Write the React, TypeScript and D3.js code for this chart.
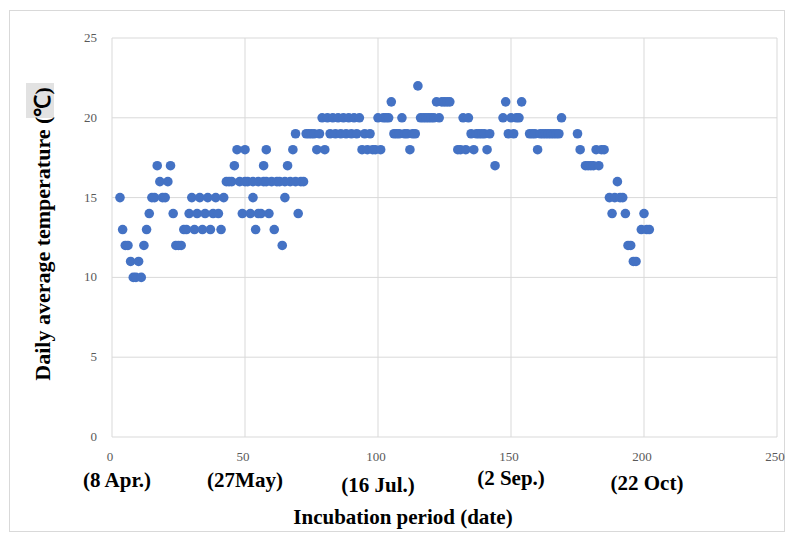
import React from "react";
import * as d3 from "d3";

// Incubation day (x) and daily average temperature (°C)
const days = [
  3, 4, 5, 6, 7, 8, 9, 10, 11, 12, 13, 14, 15, 16, 17, 18, 19, 20, 21, 22,
  23, 24, 25, 26, 27, 28, 29, 30, 31, 32, 33, 34, 35, 36, 37, 38, 39, 40, 41, 42,
  43, 44, 45, 46, 47, 48, 49, 50, 51, 52, 53, 54, 55, 56, 57, 58, 59, 60, 61, 62,
  63, 64, 65, 66, 67, 68, 69, 70, 71, 72, 73, 74, 75, 76, 77, 78, 79, 80, 81, 82,
  83, 84, 85, 86, 87, 88, 89, 90, 91, 92, 93, 94, 95, 96, 97, 98, 99, 100, 101, 102,
  103, 104, 105, 106, 107, 108, 109, 110, 111, 112, 113, 114, 115, 116, 117, 118, 119, 120, 121, 122,
  123, 124, 125, 126, 127, 130, 131, 132, 133, 134, 135, 136, 137, 138, 139, 140, 141, 142, 144, 147,
  148, 149, 150, 151, 152, 153, 154, 157, 158, 159, 160, 161, 162, 163, 164, 165, 166, 167, 168, 169,
  175, 176, 178, 179, 180, 181, 182, 183, 184, 185, 187, 188, 189, 190, 191, 192, 193, 194, 195, 196,
  197, 199, 200, 201, 202,
  50, 53, 55, 57, 58, 65, 69,
];
const temps = [
  15, 13, 12, 12, 11, 10, 10, 11, 10, 12, 13, 14, 15, 15, 17, 16, 15, 15, 16, 17,
  14, 12, 12, 12, 13, 13, 14, 15, 13, 14, 15, 13, 14, 15, 13, 14, 15, 14, 13, 15,
  16, 16, 16, 17, 18, 16, 14, 18, 16, 14, 15, 13, 16, 14, 17, 18, 14, 16, 13, 16,
  16, 12, 15, 17, 16, 18, 19, 14, 16, 16, 19, 19, 19, 19, 18, 19, 20, 18, 20, 19,
  20, 19, 20, 19, 20, 19, 20, 19, 20, 19, 20, 18, 19, 18, 19, 18, 18, 20, 18, 20,
  20, 20, 21, 19, 19, 19, 20, 19, 19, 18, 19, 19, 22, 20, 20, 20, 20, 20, 20, 21,
  20, 21, 21, 21, 21, 18, 18, 20, 18, 20, 19, 18, 19, 19, 19, 19, 18, 19, 17, 20,
  21, 19, 20, 19, 20, 20, 21, 19, 19, 19, 18, 19, 19, 19, 19, 19, 19, 19, 19, 20,
  19, 18, 17, 17, 17, 17, 18, 17, 18, 18, 15, 14, 15, 16, 15, 15, 14, 12, 12, 11,
  11, 13, 14, 13, 13,
  16, 16, 14, 16, 16, 16, 16,
];

const xTicks = [0, 50, 100, 150, 200, 250];
const yTicks = [0, 5, 10, 15, 20, 25];
const dateLabels = ["(8 Apr.)", "(27May)", "(16 Jul.)", "(2 Sep.)", "(22 Oct)"];
const dateLabelDays = [0, 50, 100, 150, 200];

const xTitle = "Incubation period (date)";
const yTitle = "Daily average temperature (\u2103)";

export default function App() {
  const W = 793;
  const H = 540;
  const x = d3.scaleLinear().domain([0, 250]).range([112, 777]);
  const y = d3.scaleLinear().domain([0, 25]).range([437, 38]);
  const serif = '"Liberation Serif", "Times New Roman", serif';
  const dateDy = [0, 0, 5, -2, 3];
  const dateDx = [5, 0, 0, 0, 3];

  return (
    <svg
      width={W}
      height={H}
      style={{ position: "absolute", left: 0, top: 0, background: "#fff" }}
      fontFamily={serif}
    >
      <rect x={0} y={0} width={W} height={H} fill="#fff" />
      <rect x={9.5} y={10.5} width={775} height={521} fill="none" stroke="#d9d9d9" strokeWidth={1} />

      {/* gridlines */}
      {yTicks.map((t) => (
        <line key={"gy" + t} x1={x(0)} x2={x(250)} y1={y(t)} y2={y(t)} stroke="#d9d9d9" strokeWidth={1} />
      ))}
      {xTicks.map((t) => (
        <line key={"gx" + t} x1={x(t)} x2={x(t)} y1={y(0)} y2={y(25)} stroke="#d9d9d9" strokeWidth={1} />
      ))}

      {/* y tick labels */}
      {yTicks.map((t) => (
        <text key={"ty" + t} x={97} y={y(t) + 4} textAnchor="end" fontSize={13} fill="#595959">
          {t}
        </text>
      ))}
      {/* x tick labels */}
      {xTicks.map((t) => (
        <text key={"tx" + t} x={x(t) - 2} y={461} textAnchor="middle" fontSize={13} fill="#595959">
          {t}
        </text>
      ))}
      {/* date labels */}
      {dateLabels.map((lab, i) => (
        <text
          key={"dl" + i}
          x={x(dateLabelDays[i]) + dateDx[i]}
          y={487 + dateDy[i]}
          textAnchor="middle"
          fontSize={21}
          fontWeight="bold"
          fill="#000"
        >
          {lab}
        </text>
      ))}

      {/* points */}
      {days.map((d, i) => (
        <circle key={"p" + i} cx={x(d)} cy={y(temps[i])} r={4.8} fill="#4472C4" />
      ))}

      {/* axis titles */}
      <text x={403} y={524} textAnchor="middle" fontSize={21} fontWeight="bold" fill="#000">
        {xTitle}
      </text>
      <rect x={26} y={83} width={28} height={35} fill="#e2e2e2" />
      <text
        transform="translate(50,234) rotate(-90)"
        textAnchor="middle"
        fontSize={22}
        fontWeight="bold"
        fill="#000"
      >
        {yTitle}
      </text>
    </svg>
  );
}
